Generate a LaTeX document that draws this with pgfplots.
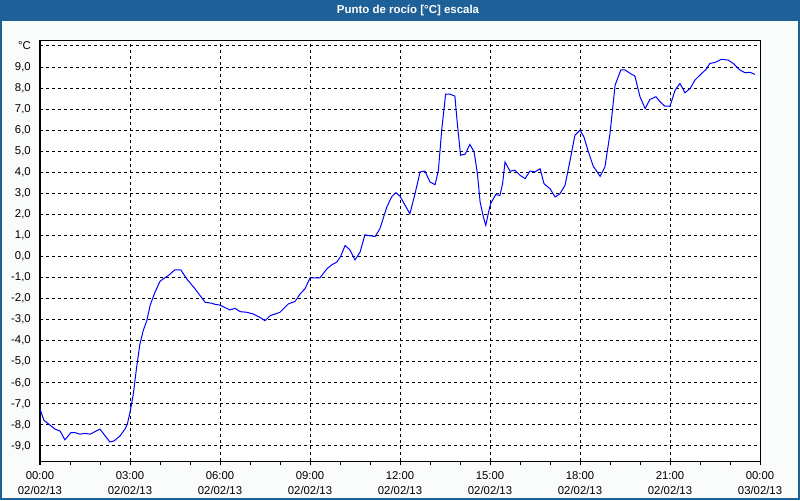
\documentclass[border=0pt]{standalone}
\usepackage{pgfplots}
\pgfplotsset{compat=1.18}
\usepackage{pgfplotstable}
\usepackage{fontspec}
\setmainfont{Liberation Sans}
\definecolor{barblue}{RGB}{30,96,152}
\definecolor{bgc}{RGB}{250,252,252}
\pgfplotstableread{
h v
0.0 -7.25
0.13 -7.78
0.5 -8.2
0.67 -8.29
0.83 -8.71
1.03 -8.37
1.17 -8.37
1.33 -8.44
1.5 -8.4
1.67 -8.44
2.0 -8.2
2.17 -8.52
2.33 -8.81
2.47 -8.76
2.67 -8.52
2.83 -8.2
2.91 -7.97
3.0 -7.41
3.11 -6.54
3.22 -5.27
3.33 -4.16
3.44 -3.52
3.56 -3.05
3.67 -2.33
3.83 -1.7
4.0 -1.18
4.11 -1.06
4.28 -0.9
4.5 -0.63
4.69 -0.63
4.89 -1.06
5.17 -1.54
5.5 -2.17
5.72 -2.22
5.83 -2.27
6.0 -2.31
6.33 -2.54
6.5 -2.46
6.67 -2.62
6.89 -2.65
7.11 -2.73
7.33 -2.89
7.5 -3.05
7.67 -2.81
8.0 -2.65
8.28 -2.25
8.5 -2.14
8.67 -1.78
8.83 -1.54
8.91 -1.30
9.0 -1.02
9.33 -1.02
9.56 -0.59
9.72 -0.40
9.89 -0.27
10.02 0.0
10.17 0.52
10.33 0.32
10.5 -0.16
10.67 0.21
10.83 1.03
10.94 1.0
11.17 0.95
11.33 1.32
11.56 2.35
11.72 2.83
11.86 3.03
12.0 2.87
12.17 2.43
12.33 2.03
12.5 2.98
12.67 4.02
12.83 4.06
13.0 3.54
13.17 3.41
13.28 4.1
13.39 6.0
13.52 7.71
13.67 7.71
13.83 7.62
13.91 6.32
14.02 4.81
14.17 4.86
14.33 5.32
14.47 4.97
14.58 3.94
14.67 2.59
14.78 1.87
14.86 1.48
14.94 2.03
15.02 2.51
15.19 2.94
15.33 2.9
15.42 3.46
15.5 4.49
15.67 4.05
15.83 4.1
16.0 3.86
16.17 3.70
16.33 4.06
16.5 4.02
16.67 4.17
16.8 3.46
17.0 3.22
17.17 2.83
17.33 2.98
17.5 3.38
17.67 4.57
17.83 5.76
18.0 6.0
18.13 5.68
18.28 4.97
18.44 4.29
18.67 3.81
18.83 4.25
19.0 5.84
19.17 8.14
19.36 8.86
19.5 8.86
19.67 8.70
19.83 8.57
20.0 7.59
20.17 7.03
20.33 7.46
20.53 7.59
20.67 7.35
20.83 7.14
21.0 7.14
21.17 7.9
21.33 8.22
21.5 7.78
21.67 7.98
21.83 8.38
22.0 8.62
22.2 8.89
22.33 9.17
22.5 9.22
22.72 9.37
22.94 9.33
23.11 9.17
23.33 8.86
23.5 8.73
23.67 8.75
23.83 8.65
}\dew
\begin{document}
\begin{tikzpicture}
\useasboundingbox (0,0) rectangle (600pt,375pt);
\fill[bgc] (0,0) rectangle (600pt,375pt);
\fill[barblue] (0,359.5pt) rectangle (600pt,375pt);
\draw[barblue,line width=1.2pt] (0.6pt,0.6pt) rectangle (599.4pt,374.4pt);
\node[text=white,font={\fontsize{8.6pt}{10pt}\selectfont\bfseries}] at (306pt,367.3pt) {Punto de rocío [°C] escala};
\begin{axis}[
  at={(30pt,29.25pt)}, anchor=south west,
  scale only axis, width=540pt, height=315.75pt,
  xmin=0, xmax=24, ymin=-9.715, ymax=10.285,
  axis background/.style={fill=white},
  axis line style={black,line width=0.75pt},
  xtick={0,3,...,24},
  xticklabels={{00:00\\02/02/13},{03:00\\02/02/13},{06:00\\02/02/13},{09:00\\02/02/13},{12:00\\02/02/13},{15:00\\02/02/13},{18:00\\02/02/13},{21:00\\02/02/13},{00:00\\03/02/13}},
  minor x tick num=2,
  ytick={-9,...,10},
  yticklabels={{-9,0},{-8,0},{-7,0},{-6,0},{-5,0},{-4,0},{-3,0},{-2,0},{-1,0},{0,0},{1,0},{2,0},{3,0},{4,0},{5,0},{6,0},{7,0},{8,0},{9,0},{°C}},
  tick align=outside,
  xtick pos=bottom, ytick pos=left,
  major tick length=3pt, minor tick length=3pt,
  x tick style={black,line width=0.75pt},
  y tick style={draw=none},
  grid=major,
  major grid style={black,line width=0.75pt,dash pattern=on 2.25pt off 2.25pt},
  xticklabel style={font={\fontsize{8.5pt}{11.25pt}\selectfont},align=center,anchor=north,inner sep=0pt,yshift=-4.5pt},
  yticklabel style={font={\fontsize{8.5pt}{10pt}\selectfont},anchor=east,inner sep=0pt,xshift=-3.75pt},
]
\addplot[blue,line width=0.75pt] table[x=h,y=v] {\dew};
\end{axis}
\end{tikzpicture}
\end{document}
